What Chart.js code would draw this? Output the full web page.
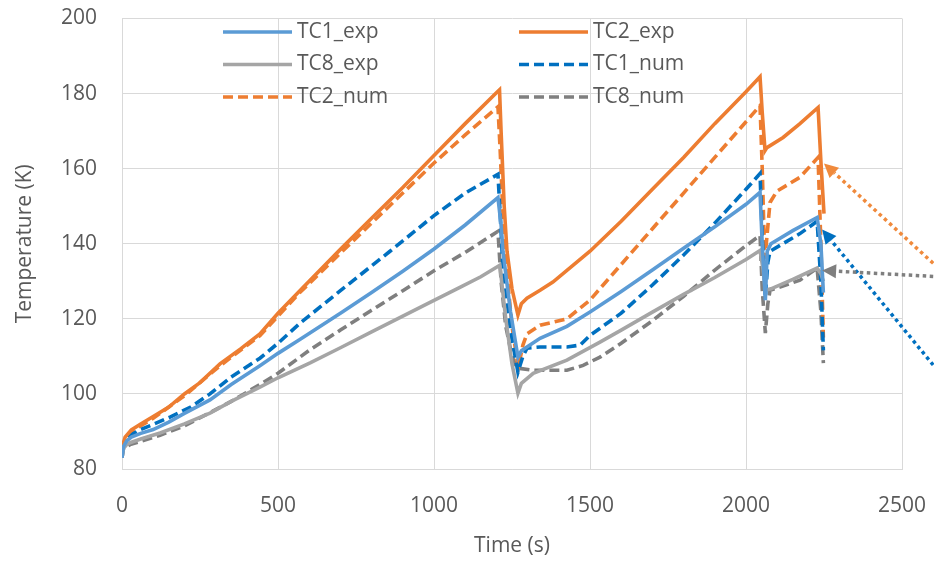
<!DOCTYPE html>
<html>
<head>
<meta charset="utf-8">
<script src="https://cdn.jsdelivr.net/npm/chart.js@4.4.1/dist/chart.umd.min.js"></script>
<style>
  html, body { margin: 0; padding: 0; background: #fff; }
  #wrap { width: 934px; height: 561px; }
</style>
</head>
<body>
<div id="wrap"><canvas id="tempChart"></canvas></div>
<script>
// Series: time (s) and temperature (K)
const tc1ExpT = [0, 5, 15, 30, 60, 100, 150, 200, 282, 350, 442, 500, 570, 700, 800, 900, 1000, 1100, 1205, 1215, 1221, 1245, 1269, 1280, 1298, 1340, 1426, 1500, 1600, 1700, 1800, 1900, 2000, 2045, 2052, 2062, 2068, 2080, 2150, 2228, 2240, 2248];
const tc1ExpV = [83, 86, 87.5, 88.5, 89.5, 90.5, 92.5, 94.8, 98.4, 102.5, 107.5, 110.8, 114.5, 121.5, 127, 132.7, 138.6, 145, 152.3, 145, 138, 122, 109.8, 111.5, 112.5, 114.8, 118, 121.8, 127.3, 133, 138.8, 144.5, 150.5, 153.7, 140, 125, 138, 140, 143.5, 147, 140, 127];

const tc2ExpT = [0, 5, 10, 30, 60, 100, 150, 200, 250, 314, 380, 442, 500, 570, 700, 800, 900, 1000, 1100, 1200, 1210, 1215, 1225, 1234, 1250, 1269, 1280, 1298, 1340, 1381, 1500, 1600, 1700, 1800, 1900, 2000, 2045, 2052, 2061, 2067, 2119, 2173, 2231, 2240, 2250];
const tc2ExpV = [84, 87, 88.5, 90.4, 92, 94, 96.5, 100, 103, 108, 112, 116, 121.5, 127.5, 138.5, 146.8, 155, 163.5, 172, 180.2, 181, 170, 150, 138, 128, 121, 124, 125.5, 127.6, 129.8, 138, 146, 154.5, 163, 172, 180.5, 184.5, 175, 164.8, 165.6, 168.3, 172, 176.3, 162, 148];

const tc8ExpT = [0, 5, 15, 26, 60, 122, 200, 282, 350, 442, 500, 603, 700, 800, 900, 1000, 1083, 1150, 1211, 1230, 1250, 1269, 1280, 1318, 1426, 1532, 1600, 1700, 1800, 1900, 2000, 2045, 2055, 2062, 2080, 2150, 2228, 2240, 2248];
const tc8ExpV = [83, 85.5, 86.5, 87, 88, 89.6, 92, 94.9, 98, 101.8, 104.3, 108.3, 112.3, 116.5, 120.7, 124.9, 128.4, 131.2, 134.3, 120, 108, 100.2, 102.8, 105.5, 109, 113.8, 117, 121.8, 126.5, 131, 135.8, 138.2, 133, 127.6, 128, 130.5, 133.5, 132, 130];

const tc1NumT = [0, 5, 26, 60, 154, 220, 282, 350, 442, 500, 570, 700, 859, 1000, 1100, 1205, 1212, 1220, 1245, 1269, 1285, 1298, 1340, 1426, 1468, 1500, 1600, 1700, 1800, 1900, 2000, 2045, 2052, 2062, 2070, 2077, 2173, 2228, 2240, 2248];
const tc1NumV = [85, 87, 89, 90.5, 93.8, 96.5, 100, 104.5, 109.5, 113.5, 118.8, 127.5, 138, 147.5, 153.5, 158.5, 148, 135, 117, 105.8, 110, 112.2, 112.5, 112.5, 113, 115.6, 121.5, 129, 137, 145.5, 154.5, 158.7, 142, 125.7, 135, 138, 142.7, 146, 130, 111.6];

const tc2NumT = [0, 10, 30, 100, 200, 314, 442, 570, 700, 800, 900, 1000, 1100, 1205, 1212, 1225, 1250, 1270, 1285, 1298, 1340, 1426, 1500, 1600, 1700, 1800, 1900, 2000, 2045, 2052, 2060, 2065, 2077, 2099, 2173, 2231, 2240, 2248];
const tc2NumV = [85, 88, 90, 93.5, 99.5, 107.5, 115.5, 127, 137.5, 145.5, 153.5, 161.5, 169, 176.5, 165, 140, 118, 107, 113, 116, 118.3, 120, 125, 134.5, 144, 153.5, 163, 172.5, 176.8, 160, 136, 140, 151, 154, 157.7, 163, 140, 115];

const tc8NumT = [0, 5, 26, 122, 200, 282, 350, 442, 500, 603, 700, 800, 900, 1000, 1106, 1205, 1215, 1230, 1250, 1266, 1318, 1426, 1478, 1532, 1600, 1700, 1800, 1900, 2000, 2045, 2052, 2062, 2070, 2077, 2173, 2228, 2240, 2248];
const tc8NumV = [83, 85.5, 86.5, 89, 91.5, 95, 98, 102.5, 105.5, 111.8, 117, 122.3, 127.5, 132.8, 138, 143.3, 130, 118, 110, 106.9, 106.3, 106.3, 107.6, 109.8, 113.5, 119.5, 126, 133, 139.5, 142.2, 128, 116.2, 124, 127.6, 130.3, 133.5, 122, 108.2];

// Arrow annotations (tail -> head), in data units
const arrowFromT = [2600, 2600, 2600];
const arrowFromV = [134.8, 107.7, 131.3];
const arrowToT = [2250, 2244, 2244];
const arrowToV = [161.4, 143.8, 132.9];
const arrowColors = ['#F08A3C', '#0070C0', '#7F7F7F'];

const xTicks = [0, 500, 1000, 1500, 2000, 2500];
const yTicks = [80, 100, 120, 140, 160, 180, 200];

const FONT = '"Open Sans", sans-serif';
const TEXT = '#595959';

// zip two arrays into {x, y} points
function pts(ts, vs) {
    return ts.map((t, i) => ({ x: t, y: vs[i] }));
}

function series(label, ts, vs, color, dashed) {
    return {
        label: label,
        data: pts(ts, vs),
        borderColor: color,
        backgroundColor: color,
        borderWidth: 3.6,
        borderDash: dashed ? [10, 5] : [],
        pointRadius: 0,
        tension: 0,
        fill: false
    };
}

// Two-column legend laid out like the Excel one
const legendPlugin = {
    id: 'gridLegend',
    afterDraw(chart) {
        const ctx = chart.ctx;
        const area = chart.chartArea;
        const left = area.left + 101;
        const top = area.top + 13.5;
        ctx.save();
        ctx.font = '21px ' + FONT;
        ctx.textBaseline = 'middle';
        chart.data.datasets.forEach((ds, i) => {
            const col = i % 2, row = Math.floor(i / 2);
            const x = left + col * 296;
            const y = top + row * 32.5;
            ctx.strokeStyle = ds.borderColor;
            ctx.lineWidth = 3.6;
            ctx.setLineDash(ds.borderDash);
            ctx.beginPath();
            ctx.moveTo(x, y);
            ctx.lineTo(x + 69, y);
            ctx.stroke();
            ctx.setLineDash([]);
            ctx.fillStyle = TEXT;
            ctx.fillText(ds.label, x + 74, y);
        });
        ctx.restore();
    }
};

// Dotted arrows pointing at the end of the curves
const arrowPlugin = {
    id: 'arrows',
    afterDraw(chart) {
        const ctx = chart.ctx;
        const xs = chart.scales.x, ys = chart.scales.y;
        ctx.save();
        arrowFromT.forEach((t, i) => {
            const x0 = xs.getPixelForValue(t), y0 = ys.getPixelForValue(arrowFromV[i]);
            const x1 = xs.getPixelForValue(arrowToT[i]), y1 = ys.getPixelForValue(arrowToV[i]);
            const ang = Math.atan2(y1 - y0, x1 - x0);
            const headLen = 14, headW = 7;
            const bx = x1 - headLen * Math.cos(ang), by = y1 - headLen * Math.sin(ang);
            ctx.strokeStyle = arrowColors[i];
            ctx.fillStyle = arrowColors[i];
            ctx.lineWidth = 3.5;
            ctx.setLineDash([3.5, 3.5]);
            ctx.beginPath();
            ctx.moveTo(x0, y0);
            ctx.lineTo(bx, by);
            ctx.stroke();
            ctx.setLineDash([]);
            ctx.beginPath();
            ctx.moveTo(x1, y1);
            ctx.lineTo(bx + headW * Math.sin(ang), by - headW * Math.cos(ang));
            ctx.lineTo(bx - headW * Math.sin(ang), by + headW * Math.cos(ang));
            ctx.closePath();
            ctx.fill();
        });
        ctx.restore();
    }
};

const ctx = document.getElementById('tempChart').getContext('2d');
new Chart(ctx, {
    type: 'line',
    data: {
        datasets: [
            series('TC1_exp', tc1ExpT, tc1ExpV, '#5B9BD5', false),
            series('TC2_exp', tc2ExpT, tc2ExpV, '#ED7D31', false),
            series('TC8_exp', tc8ExpT, tc8ExpV, '#A5A5A5', false),
            series('TC1_num', tc1NumT, tc1NumV, '#0070C0', true),
            series('TC2_num', tc2NumT, tc2NumV, '#ED7D31', true),
            series('TC8_num', tc8NumT, tc8NumV, '#7F7F7F', true)
        ]
    },
    options: {
        responsive: true,
        maintainAspectRatio: false,
        animation: false,
        layout: { padding: { left: 0, right: 32, top: 18.5, bottom: 0 } },
        plugins: {
            legend: { display: false },
            tooltip: { enabled: false }
        },
        scales: {
            x: {
                type: 'linear',
                min: 0,
                max: 2500,
                afterBuildTicks: scale => { scale.ticks = xTicks.map(v => ({ value: v })); },
                afterFit: scale => { scale.height = 92; scale.paddingLeft = 0; scale.paddingRight = 0; },
                grid: { color: '#D9D9D9', drawTicks: false },
                border: { color: '#D9D9D9' },
                ticks: { color: TEXT, font: { family: FONT, size: 21 }, padding: 24, maxRotation: 0, callback: v => String(v) },
                title: { display: true, text: 'Time (s)', color: TEXT, font: { family: FONT, size: 21 }, padding: { top: 0, bottom: 2 } }
            },
            y: {
                min: 80,
                max: 200,
                afterBuildTicks: scale => { scale.ticks = yTicks.map(v => ({ value: v })); },
                afterFit: scale => { scale.width = 122; scale.paddingTop = 0; scale.paddingBottom = 0; },
                grid: { color: '#D9D9D9', drawTicks: false },
                border: { color: '#D9D9D9' },
                ticks: { color: TEXT, font: { family: FONT, size: 21 }, padding: 25, callback: v => String(v) },
                title: { display: true, text: 'Temperature (K)', color: TEXT, font: { family: FONT, size: 21 }, padding: { top: 12, bottom: 0 } }
            }
        }
    },
    plugins: [legendPlugin, arrowPlugin]
});
</script>
</body>
</html>
